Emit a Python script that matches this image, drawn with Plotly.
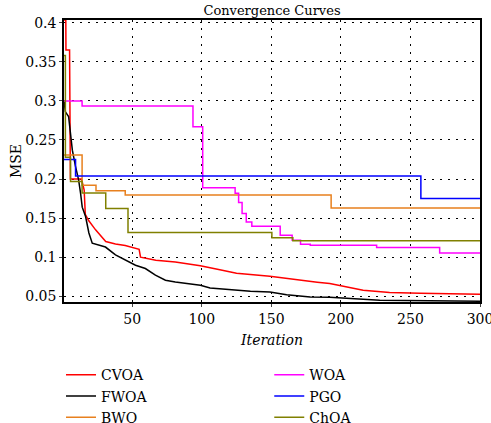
import plotly.graph_objects as go

# ---- data ----
cvoa_x = [1, 2.3, 2.4, 5, 5.6, 13.6, 15.5, 16.3, 18.7, 23.7, 31, 38, 45, 52, 55, 56, 67, 81, 99, 113, 125, 149, 168, 183, 192, 199, 216, 235, 257, 300]
cvoa_y = [0.4035, 0.4035, 0.365, 0.365, 0.2, 0.2, 0.186, 0.155, 0.147, 0.135, 0.12, 0.117, 0.115, 0.111, 0.11, 0.1, 0.096, 0.094, 0.089, 0.084, 0.0795, 0.0757, 0.071, 0.068, 0.0663, 0.064, 0.0577, 0.055, 0.0538, 0.0525]

fwoa_x = [1, 2, 4.3, 5.5, 7, 9.3, 11.5, 12.9, 14.1, 16.5, 18.9, 21.3, 30.8, 38, 45, 52.4, 59.5, 66.7, 73.9, 81, 99, 106, 135, 149, 161, 178, 192, 228, 300]
fwoa_y = [0.3, 0.286, 0.28, 0.263, 0.237, 0.216, 0.199, 0.182, 0.164, 0.152, 0.131, 0.118, 0.113, 0.103, 0.096, 0.0897, 0.0855, 0.077, 0.0705, 0.0683, 0.064, 0.0607, 0.0564, 0.0555, 0.052, 0.049, 0.0487, 0.0449, 0.0437]

bwo_x = [1, 14, 24, 45, 193, 300]
bwo_y = [0.2308, 0.192, 0.185, 0.1795, 0.163, 0.163]

woa_x = [1, 14, 93.7, 100.7, 124, 126.5, 129, 132, 136, 156.4, 165, 171, 178, 225.7, 271, 300]
woa_y = [0.300, 0.2936, 0.267, 0.1888, 0.1817, 0.17, 0.156, 0.145, 0.1397, 0.128, 0.1218, 0.1167, 0.1154, 0.1124, 0.1055, 0.1055]

pgo_x = [1, 9.3, 257.5, 300]
pgo_y = [0.225, 0.204, 0.175, 0.175]

choa_x = [1, 2, 5.7, 14, 31, 47, 150.4, 165.5, 300]
choa_y = [0.358, 0.228, 0.197, 0.182, 0.1624, 0.1317, 0.1248, 0.121, 0.121]

x_ticks = [50, 100, 150, 200, 250, 300]
y_ticks = [0.05, 0.1, 0.15, 0.2, 0.25, 0.3, 0.35, 0.4]
y_tick_text = ["0.05", "0.1", "0.15", "0.2", "0.25", "0.3", "0.35", "0.4"]

FONT = "DejaVu Serif"

series = [
    ("CVOA", cvoa_x, cvoa_y, "#ff0000", "linear", "legend"),
    ("FWOA", fwoa_x, fwoa_y, "#000000", "linear", "legend"),
    ("BWO", bwo_x, bwo_y, "#e8801e", "hv", "legend"),
    ("WOA", woa_x, woa_y, "#ff00ff", "hv", "legend2"),
    ("PGO", pgo_x, pgo_y, "#0000ff", "hv", "legend2"),
    ("ChOA", choa_x, choa_y, "#808000", "hv", "legend2"),
]

fig = go.Figure()
for name, xs, ys, col, shape, leg in series:
    fig.add_trace(go.Scatter(x=xs, y=ys, mode="lines", name=name,
                             line=dict(color=col, width=1.5, shape=shape),
                             legend=leg))

legend_common = dict(font=dict(family=FONT, size=14, color="#000"),
                     bgcolor="rgba(0,0,0,0)", yanchor="top", xanchor="left",
                     tracegroupgap=0, itemwidth=30)

fig.update_layout(
    width=491, height=423,
    paper_bgcolor="white", plot_bgcolor="white",
    margin=dict(l=63.5, r=11, t=20, b=121.3, autoexpand=False),
    font=dict(family=FONT, size=14, color="#000"),
    title=dict(text="Convergence Curves", x=0.554, xanchor="center",
               y=0.985, yref="container", yanchor="top", pad=dict(t=0, b=0),
               font=dict(family=FONT, size=13, color="#000")),
    showlegend=True,
    legend=dict(x=-0.0072, y=-0.203, **legend_common),
    legend2=dict(x=0.4934, y=-0.203, **legend_common),
)

fig.update_xaxes(range=[1, 300], tickvals=x_ticks, ticks="outside", ticklen=3,
                 showline=True, linecolor="#000", linewidth=1.5, mirror=True,
                 showgrid=True, gridcolor="#000", gridwidth=1, griddash="2px,6px",
                 zeroline=False, ticklabeloverflow="allow",
                 title=dict(text="<i>Iteration</i>", font=dict(family=FONT, size=14), standoff=10),
                 tickfont=dict(family=FONT, size=14, color="#000"))
fig.update_yaxes(range=[0.0427, 0.4035], tickvals=y_ticks, ticktext=y_tick_text,
                 ticks="outside", ticklen=3,
                 showline=True, linecolor="#000", linewidth=1.5, mirror=True,
                 showgrid=True, gridcolor="#000", gridwidth=1, griddash="2px,6px",
                 zeroline=False, ticklabeloverflow="allow",
                 title=dict(text="MSE", font=dict(family=FONT, size=14), standoff=0),
                 tickfont=dict(family=FONT, size=14, color="#000"))

fig.write_html("out.html", config={"displayModeBar": False},
               post_script="document.body.style.margin='0';document.body.style.overflow='hidden';")
